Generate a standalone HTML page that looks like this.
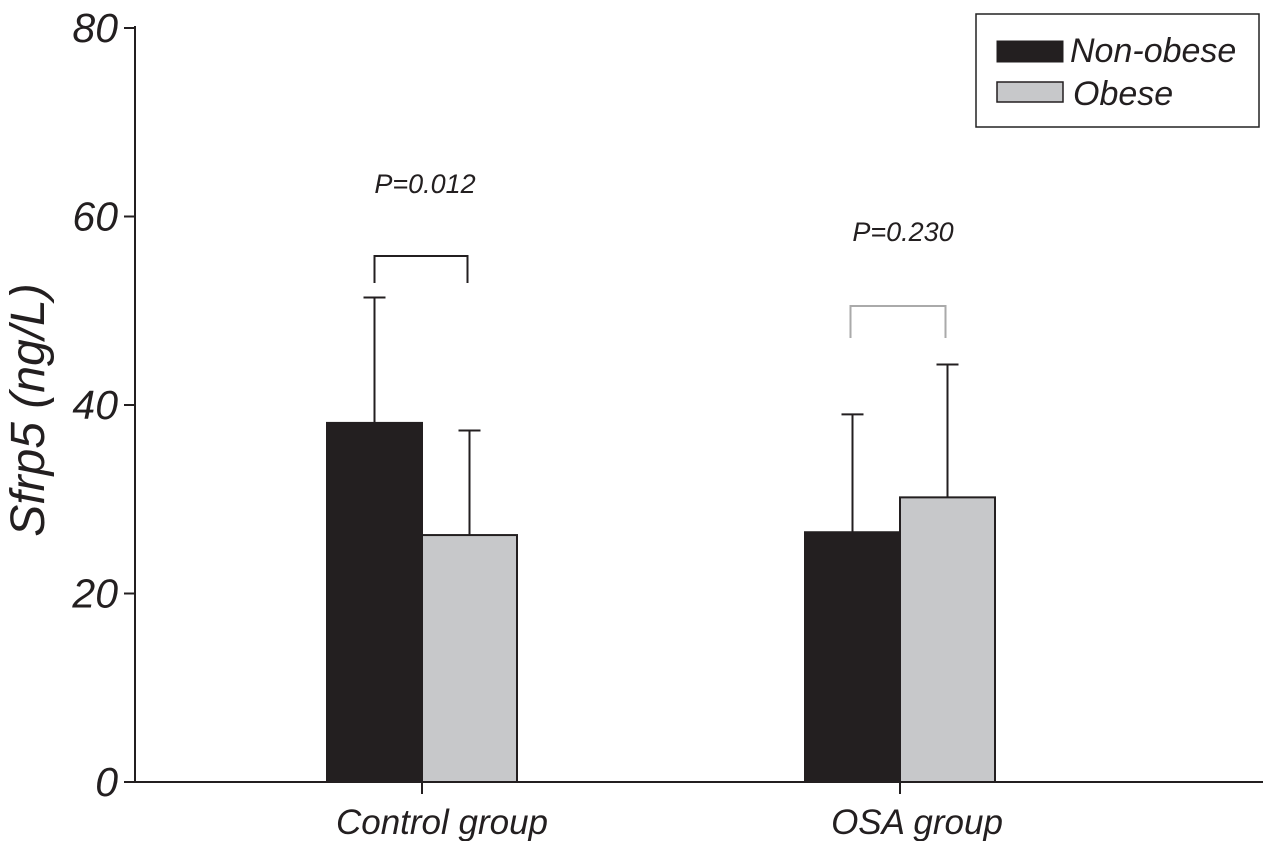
<!DOCTYPE html>
<html><head><meta charset="utf-8"><style>
html,body{margin:0;padding:0;background:#fff;}
svg{display:block;font-family:"Liberation Sans",sans-serif;font-style:italic;}
</style></head><body>
<svg id="chart" width="1263" height="841" xmlns="http://www.w3.org/2000/svg">
<g id="marks"></g>
<g id="axes"></g>
<rect x="976" y="14" width="283" height="113" fill="#fff" stroke="#222" stroke-width="1.5"/>
<rect x="997" y="41" width="66" height="21" fill="#231f20" stroke="#231f20"/>
<text x="1070" y="62" font-size="34" fill="#231f20">Non-obese</text>
<rect x="997" y="82" width="66" height="20" fill="#c7c8ca" stroke="#231f20" stroke-width="1.5"/>
<text x="1073" y="105" font-size="34" fill="#231f20">Obese</text>
<text transform="translate(44,410) rotate(-90)" text-anchor="middle" font-size="48" fill="#231f20">Sfrp5 (ng/L)</text>
</svg>
<script>
const categories = ["Control group", "OSA group"];
const nonObese = [38.1, 26.5];
const obese = [26.2, 30.2];
const nonObeseErr = [13.3, 12.5];
const obeseErr = [11.1, 14.1];
const pLabels = ["P=0.012", "P=0.230"];
const yTicks = [0, 20, 40, 60, 80];

const NS = "http://www.w3.org/2000/svg";
const y0 = 782, yTop = 28, yMax = 80;
const yScale = v => y0 - v / yMax * (y0 - yTop);
const groupCenter = i => 422 + i * 478;
const barW = 95;
const marks = document.getElementById('marks');
const axes = document.getElementById('axes');
function mk(tag, attrs, parent) {
  const e = document.createElementNS(NS, tag);
  for (const k in attrs) e.setAttribute(k, attrs[k]);
  parent.appendChild(e);
  return e;
}
categories.forEach((c, i) => {
  const cx = groupCenter(i);
  const series = [[nonObese[i], nonObeseErr[i], '#231f20', cx - barW, 'non-obese'], [obese[i], obeseErr[i], '#c7c8ca', cx, 'obese']];
  series.forEach(([v, e, col, x, nm]) => {
    const mid = x + barW / 2;
    const el = mk('line', {x1: mid, x2: mid, y1: yScale(v), y2: yScale(v + e), stroke: '#231f20', 'stroke-width': 2}, marks);
    
    
    const cap = mk('line', {x1: mid - 11, x2: mid + 11, y1: yScale(v + e), y2: yScale(v + e), stroke: '#231f20', 'stroke-width': 2}, marks);
    
    
    const r = mk('rect', {x: x, y: yScale(v), width: barW, height: y0 - yScale(v), fill: col, stroke: '#231f20', 'stroke-width': 2}, marks);
    
    
  });
  const bx1 = cx - barW / 2 - (i === 0 ? 0 : 2), bx2 = cx + barW / 2 - 2;
  const top = i === 0 ? 256 : 306, bot = i === 0 ? 283 : 338;
  const bc = i === 0 ? '#231f20' : '#aaa';
  const br = mk('path', {d: `M${bx1},${bot} V${top} H${bx2} V${bot}`, fill: 'none', stroke: bc, 'stroke-width': 2}, marks);
  
  
  const pt = mk('text', {x: cx + 3, y: i === 0 ? 193 : 241, 'text-anchor': 'middle', 'font-size': 27, fill: '#231f20'}, marks);
  pt.textContent = pLabels[i];
  
  
  const t = mk('line', {x1: cx, x2: cx, y1: y0, y2: 794, stroke: '#231f20', 'stroke-width': 2}, axes);
  
  
  const lt = mk('text', {x: cx + (i === 0 ? 20 : 17), y: 834, 'text-anchor': 'middle', 'font-size': 35, fill: '#231f20'}, axes);
  lt.textContent = c;
  
  
});
const ya = mk('line', {x1: 135, x2: 135, y1: yTop - 2, y2: y0, stroke: '#231f20', 'stroke-width': 2}, axes);


const xa = mk('line', {x1: 134, x2: 1263, y1: y0, y2: y0, stroke: '#231f20', 'stroke-width': 2}, axes);


yTicks.forEach(v => {
  const t = mk('line', {x1: 124, x2: 135, y1: yScale(v), y2: yScale(v), stroke: '#231f20', 'stroke-width': 2}, axes);
  
  
  const l = mk('text', {x: 118, y: yScale(v) + 14, 'text-anchor': 'end', 'font-size': 41, fill: '#231f20'}, axes);
  l.textContent = v;
  
  
});
</script>
</body></html>
